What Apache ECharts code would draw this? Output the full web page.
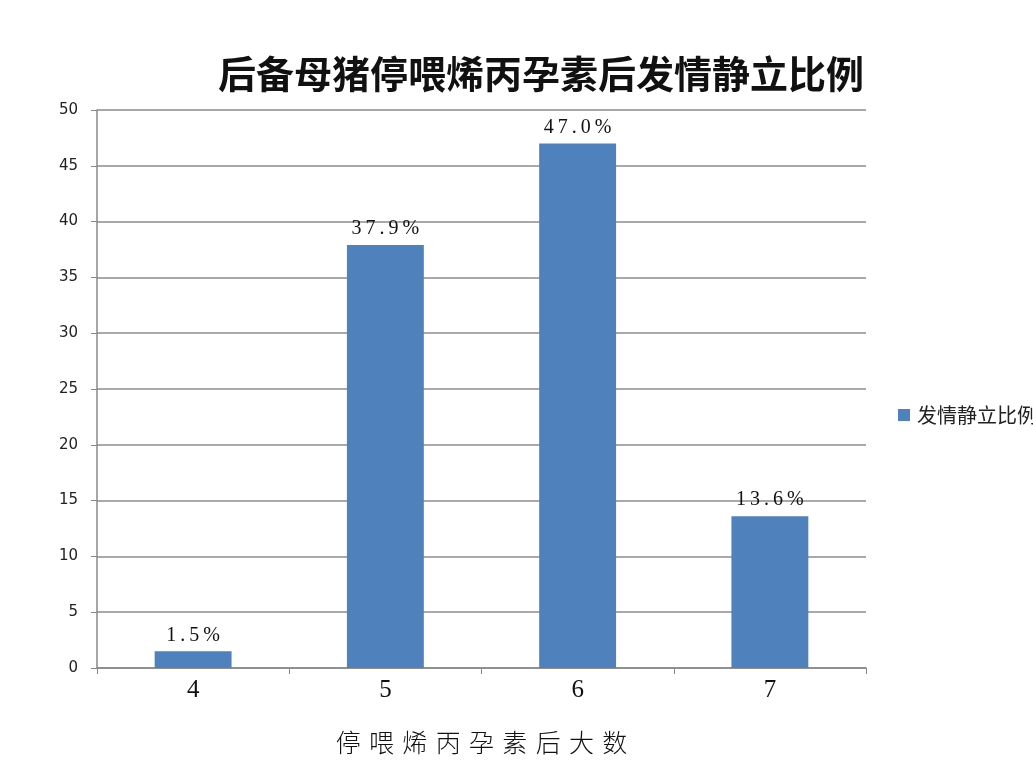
<!DOCTYPE html>
<html><head><meta charset="utf-8">
<script src="https://cdn.jsdelivr.net/npm/echarts@6/dist/echarts.min.js"></script>
<style>html,body{margin:0;padding:0;background:#fff;overflow:hidden}#c{width:1033px;height:769px}</style>
</head><body><div id="c"></div>
<script>
var categories = ['4', '5', '6', '7'];
var values = [1.5, 37.9, 47.0, 13.6];
var yTicks = [0, 5, 10, 15, 20, 25, 30, 35, 40, 45, 50];
var seriesName = '发情静立比例';
var titleText = '后备母猪停喂烯丙孕素后发情静立比例';
var xName = '停喂烯丙孕素后大数';

var chart = echarts.init(document.getElementById('c'));
chart.setOption({
  animation: false,
  backgroundColor: '#fff',
  title: {
    text: titleText, left: 536, top: 50, textAlign: 'center',
    textStyle: {fontFamily: 'Noto Sans CJK SC', fontWeight: 'bold', fontSize: 38, color: '#111'}
  },
  legend: {
    data: [seriesName], left: 893, top: 400, itemWidth: 12, itemHeight: 12, itemGap: 4,
    icon: 'rect',
    textStyle: {fontFamily: 'Noto Sans CJK SC', fontSize: 20, color: '#222', padding: [0, 0, 0, 2]}
  },
  grid: {left: 97, right: 167, top: 110, bottom: 101, containLabel: false},
  xAxis: {
    type: 'category', data: categories,
    name: xName.split('').join('\u2004'), nameLocation: 'middle', nameGap: 62,
    nameTextStyle: {fontFamily: 'Noto Sans CJK SC', fontSize: 25, color: '#111', fontWeight: 300},
    axisLine: {lineStyle: {color: '#888', width: 1.5}},
    axisTick: {show: true, length: 6, lineStyle: {color: '#888'}},
    axisLabel: {fontFamily: 'Liberation Serif', fontSize: 25, color: '#111', margin: 10}
  },
  yAxis: {
    type: 'value', min: yTicks[0], max: yTicks[yTicks.length - 1], interval: 5,
    axisLine: {show: true, lineStyle: {color: '#888', width: 1.5}},
    axisTick: {show: true, length: 6, lineStyle: {color: '#888'}},
    splitLine: {lineStyle: {color: '#8c8c8c', width: 1.5}},
    axisLabel: {fontFamily: 'DejaVu Sans', fontSize: 15, color: '#222', margin: 19}
  },
  series: [{
    name: seriesName, type: 'bar', data: values, barWidth: '40%',
    itemStyle: {color: '#4F81BD'},
    label: {
      show: true, position: 'top', distance: 6,
      fontFamily: 'Liberation Serif', fontSize: 20, color: '#111',
      formatter: function (p) { return (p.value.toFixed(1) + '%').split('').join('\u2009'); }
    }
  }]
});
</script></body></html>
